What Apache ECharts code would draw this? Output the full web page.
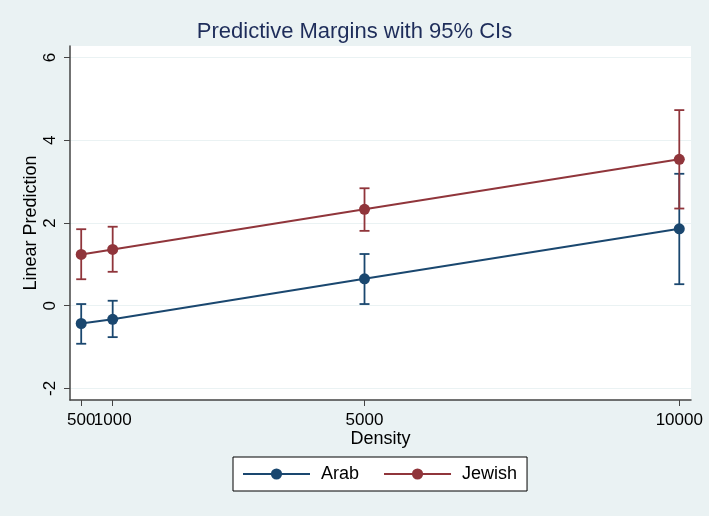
<!DOCTYPE html>
<html>
<head>
<meta charset="utf-8">
<script src="https://cdn.jsdelivr.net/npm/echarts@6/dist/echarts.min.js"></script>
<style>
html,body{margin:0;padding:0;background:#EAF2F3;}
#chart{width:709px;height:516px;}
</style>
</head>
<body>
<div id="chart"></div>
<script>
var density = [500, 1000, 5000, 10000];
var arabMargin = [-0.43, -0.33, 0.65, 1.86];
var arabLower = [-0.92, -0.76, 0.04, 0.52];
var arabUpper = [0.04, 0.12, 1.25, 3.19];
var jewishMargin = [1.24, 1.36, 2.33, 3.54];
var jewishLower = [0.64, 0.82, 1.81, 2.35];
var jewishUpper = [1.85, 1.91, 2.84, 4.73];
var xTicksMain = [1000, 5000, 10000];
var xTicksExtra = [500];
var yTicks = [-2, 0, 2, 4, 6];

var arabColor = '#1A476F';
var jewishColor = '#90353B';
var font = 'Liberation Sans, Arial, Helvetica, sans-serif';

function pairs(xs, ys) { return xs.map(function (x, i) { return [x, ys[i]]; }); }
function ciData(xs, lo, hi) { return xs.map(function (x, i) { return [x, lo[i], hi[i]]; }); }

function capRender(color) {
  return function (params, api) {
    var x = api.value(0);
    var lo = api.coord([x, api.value(1)]);
    var hi = api.coord([x, api.value(2)]);
    var w = 5;
    var st = { stroke: color, lineWidth: 1.8 };
    return {
      type: 'group',
      children: [
        { type: 'line', shape: { x1: lo[0], y1: lo[1], x2: hi[0], y2: hi[1] }, style: st },
        { type: 'line', shape: { x1: lo[0] - w, y1: lo[1], x2: lo[0] + w, y2: lo[1] }, style: st },
        { type: 'line', shape: { x1: hi[0] - w, y1: hi[1], x2: hi[0] + w, y2: hi[1] }, style: st }
      ]
    };
  };
}

function xAxisBase(ticks, showLine) {
  return {
    type: 'value',
    min: 322, max: 10186,
    position: 'bottom',
    axisLine: { show: showLine, onZero: false, lineStyle: { color: '#444', width: 1.5 } },
    axisTick: { show: true, length: 6, customValues: ticks, lineStyle: { color: '#444', width: 1 } },
    axisLabel: {
      customValues: ticks, margin: 12, hideOverlap: false,
      formatter: function (v) { return String(v); },
      fontFamily: font, fontSize: 17, color: '#000'
    },
    splitLine: { show: false }
  };
}

var xMain = xAxisBase(xTicksMain, true);
xMain.name = 'Density';
xMain.nameLocation = 'middle';
xMain.nameGap = 30;
xMain.nameMoveOverlap = false;
xMain.nameTextStyle = { fontFamily: font, fontSize: 18, color: '#000' };
var xExtra = xAxisBase(xTicksExtra, false);

var chart = echarts.init(document.getElementById('chart'));
chart.setOption({
  backgroundColor: '#EAF2F3',
  animation: false,
  title: {
    text: 'Predictive Margins with 95% CIs',
    left: 'center',
    top: 16,
    textStyle: { fontFamily: font, fontSize: 22, fontWeight: 'normal', color: '#1E2D5A' }
  },
  grid: {
    left: 70, right: 18, top: 46, bottom: 116,
    show: true, backgroundColor: '#FFFFFF', borderWidth: 0
  },
  legend: {
    left: 233, top: 457,
    data: ['Arab', 'Jewish'],
    backgroundColor: '#FFFFFF',
    borderColor: '#000000', borderWidth: 1,
    padding: [8, 10, 8, 9],
    itemWidth: 67, itemHeight: 14, itemGap: 24,
    textStyle: { fontFamily: font, fontSize: 18, color: '#000', padding: [0, 0, 0, 6] }
  },
  xAxis: [xMain, xExtra],
  yAxis: {
    type: 'value',
    min: -2.28, max: 6.28,
    name: 'Linear Prediction',
    nameLocation: 'middle',
    nameGap: 30,
    nameMoveOverlap: false,
    nameTextStyle: { fontFamily: font, fontSize: 18, color: '#000' },
    axisLine: { show: true, onZero: false, lineStyle: { color: '#444', width: 1.5 } },
    axisTick: { show: true, length: 6, customValues: yTicks, lineStyle: { color: '#444' } },
    axisLabel: {
      customValues: yTicks, rotate: 90, margin: 11,
      formatter: function (v) { return String(v); },
      fontFamily: font, fontSize: 17, color: '#000'
    },
    splitLine: { show: true, lineStyle: { color: '#EAF2F3', width: 1.2 } }
  },
  series: [
    {
      name: 'Arab CI', type: 'custom', renderItem: capRender(arabColor),
      data: ciData(density, arabLower, arabUpper), z: 2, silent: true,
      encode: { x: 0, y: [1, 2] }
    },
    {
      name: 'Jewish CI', type: 'custom', renderItem: capRender(jewishColor),
      data: ciData(density, jewishLower, jewishUpper), z: 2, silent: true,
      encode: { x: 0, y: [1, 2] }
    },
    {
      name: 'Arab', type: 'line', data: pairs(density, arabMargin),
      symbol: 'circle', symbolSize: 11, z: 3,
      lineStyle: { color: arabColor, width: 2 },
      itemStyle: { color: arabColor }
    },
    {
      name: 'Jewish', type: 'line', data: pairs(density, jewishMargin),
      symbol: 'circle', symbolSize: 11, z: 3,
      lineStyle: { color: jewishColor, width: 2 },
      itemStyle: { color: jewishColor }
    }
  ]
});
</script>
</body>
</html>
